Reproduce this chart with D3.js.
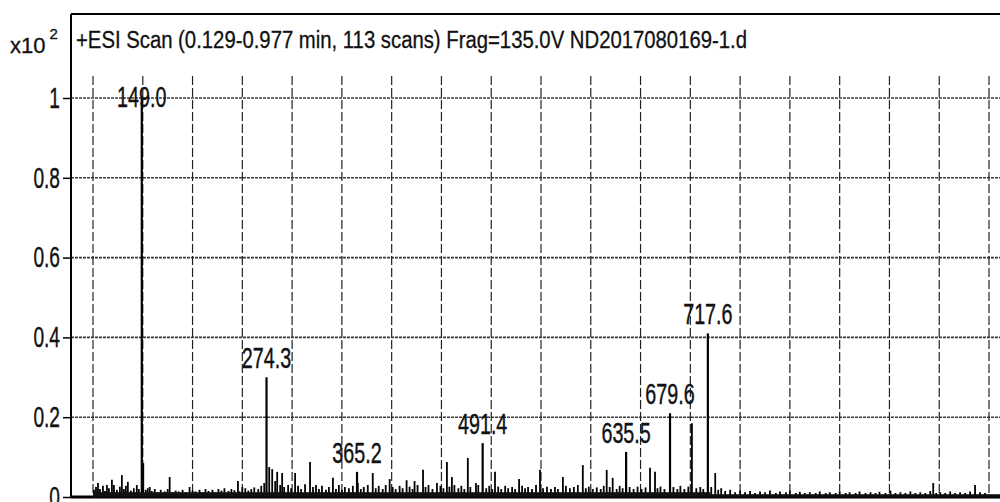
<!DOCTYPE html>
<html>
<head>
<meta charset="utf-8">
<script src="https://cdn.jsdelivr.net/npm/d3@7"></script>
<style>
  body { margin: 0; background: #fff; }
  svg { display: block; font-family: "Liberation Sans", Arial, sans-serif; }
</style>
</head>
<body>
<div id="spectrum"></div>
<script>
// Chart texts
const titleText = "+ESI Scan (0.129-0.977 min, 113 scans) Frag=135.0V ND2017080169-1.d";
const yTicks = [0, 0.2, 0.4, 0.6, 0.8, 1];
const yTickLabels = ["0", "0.2", "0.4", "0.6", "0.8", "1"];
const xGridValues = [100, 150, 200, 250, 300, 350, 400, 450, 500, 550, 600, 650, 700, 750, 800, 850, 900, 950, 1000];

// Labelled peaks (m/z, intensity x10^2)
const labelMz = [149.0, 274.3, 365.2, 491.4, 635.5, 679.6, 717.6];
const labelIntensity = [1.0, 0.30, 0.063, 0.135, 0.113, 0.21, 0.41];

// Other visible peaks [m/z, intensity]
const minorPeaks = [
  [105, 0.035], [114, 0.03], [119, 0.043], [129, 0.055], [135, 0.038], [144, 0.03],
  [150.5, 0.085], [157, 0.025], [177, 0.05], [197, 0.025], [245.6, 0.04], [250, 0.025],
  [277, 0.075], [280, 0.07], [285, 0.063], [290, 0.06], [303, 0.06], [318, 0.088],
  [341, 0.048], [366, 0.035], [381, 0.06], [398, 0.045], [415, 0.042], [423, 0.04],
  [431.5, 0.068], [445.5, 0.035], [455.5, 0.088], [460.5, 0.05], [476.5, 0.098],
  [484.7, 0.035], [503.8, 0.063], [528, 0.045], [549, 0.068], [572, 0.05], [592, 0.08],
  [616, 0.068], [622, 0.048], [659.5, 0.073], [664.5, 0.063], [701.6, 0.185],
  [725, 0.06], [944, 0.035], [986, 0.03]
];

// Baseline noise [m/z, intensity]
const noisePeaks = [
  [101, .018], [103, .025], [107, .02], [110, .028], [112, .015], [116, .022], [121, .03],
  [124, .018], [127, .026], [131, .02], [133, .028], [138, .016], [141, .022], [146, .02],
  [153, .018], [155, .022], [159, .015], [162, .02], [165, .012], [168, .018], [172, .014],
  [175, .02], [180, .012], [183, .016], [186, .014], [190, .018], [193, .012], [200, .016],
  [203, .014], [207, .018], [210, .012], [213, .02], [216, .015], [220, .018], [223, .012],
  [226, .02], [229, .016], [232, .022], [236, .015], [239, .02], [242, .017], [247, .014],
  [253, .022], [256, .016], [259, .02], [262, .024], [266, .02], [269, .028], [272, .035],
  [283, .04], [288, .03], [292, .025], [296, .03], [299, .022], [306, .028], [309, .02],
  [313, .032], [321, .025], [324, .03], [327, .02], [330, .028], [334, .018], [337, .025],
  [344, .02], [347, .03], [350, .018], [353, .025], [357, .022], [361, .028], [369, .02],
  [372, .025], [376, .03], [384, .022], [387, .028], [391, .02], [394, .03], [401, .025],
  [404, .02], [408, .028], [411, .022], [418, .026], [421, .02], [426, .03], [434, .025],
  [437, .03], [441, .02], [449, .028], [452, .022], [458, .026], [463, .03], [467, .022],
  [470, .028], [473, .02], [479, .025], [487, .03], [495, .022], [498, .028], [501, .02],
  [507, .026], [510, .02], [514, .028], [517, .022], [521, .025], [524, .02], [531, .028],
  [534, .022], [537, .025], [541, .02], [545, .03], [552, .022], [556, .026], [560, .02],
  [564, .025], [567, .02], [575, .028], [579, .022], [583, .025], [587, .03], [595, .022],
  [598, .026], [602, .02], [606, .024], [610, .02], [613, .028], [619, .025], [626, .02],
  [629, .028], [632, .022], [639, .025], [643, .02], [647, .026], [651, .02], [655, .024],
  [667, .022], [670, .026], [674, .02], [683, .025], [687, .02], [690, .028], [694, .02],
  [698, .026], [706, .022], [710, .025], [713, .02], [721, .025], [728, .018], [731, .022],
  [735, .015], [740, .018], [745, .012], [750, .016], [755, .012], [760, .015], [765, .01],
  [770, .014], [775, .012], [780, .016], [786, .01], [790, .014], [796, .012], [800, .016],
  [806, .01], [810, .013], [815, .01], [820, .012], [826, .01], [830, .014], [836, .01],
  [840, .012], [846, .01], [850, .013], [856, .01], [860, .012], [866, .01], [870, .014],
  [876, .01], [881, .012], [886, .01], [890, .013], [896, .01], [901, .016], [906, .01],
  [911, .012], [916, .01], [921, .014], [926, .01], [931, .012], [936, .01], [941, .015],
  [947, .01], [951, .012], [956, .01], [961, .014], [966, .01], [971, .012], [976, .01],
  [981, .014], [986, .01], [991, .012], [996, .01]
];

// Layout
const width = 1000;
const height = 502;
const axisX = 71;
const frameTop = 14;
const gridTop = 76;

const x = d3.scaleLinear().domain([100, 1000]).range([93, 989]);
const y = d3.scaleLinear().domain([0, 1]).range([497, 98]);

// squeeze text horizontally, like the scanned print
function condense(sel, k) {
  sel.each(function () {
    const w = this.getComputedTextLength();
    d3.select(this).attr("textLength", w * k).attr("lengthAdjust", "spacingAndGlyphs");
  });
}

const svg = d3.select("#spectrum")
  .append("svg")
  .attr("width", width)
  .attr("height", height);

// Horizontal grid lines
svg.append("g")
  .selectAll("line")
  .data(yTicks.filter((d) => d > 0))
  .enter()
  .append("line")
  .attr("x1", axisX)
  .attr("x2", width)
  .attr("y1", (d) => y(d))
  .attr("y2", (d) => y(d))
  .attr("stroke", "#3a3a3a")
  .attr("stroke-width", 1.6)
  .attr("stroke-dasharray", "3,1");

// Vertical grid lines
svg.append("g")
  .selectAll("line")
  .data(xGridValues)
  .enter()
  .append("line")
  .attr("x1", (d) => x(d))
  .attr("x2", (d) => x(d))
  .attr("y1", gridTop)
  .attr("y2", y(0))
  .attr("stroke", "#222")
  .attr("stroke-width", 1.2)
  .attr("stroke-dasharray", "9,3");

// Noise sticks
svg.append("g")
  .selectAll("line")
  .data(noisePeaks)
  .enter()
  .append("line")
  .attr("x1", (d) => x(d[0]))
  .attr("x2", (d) => x(d[0]))
  .attr("y1", y(0))
  .attr("y2", (d) => y(d[1]))
  .attr("stroke", "#000")
  .attr("stroke-width", 1.8);

// Minor peaks
svg.append("g")
  .selectAll("line")
  .data(minorPeaks)
  .enter()
  .append("line")
  .attr("x1", (d) => x(d[0]))
  .attr("x2", (d) => x(d[0]))
  .attr("y1", y(0))
  .attr("y2", (d) => y(d[1]))
  .attr("stroke", "#000")
  .attr("stroke-width", 1.8);

// Labelled peaks
const labelled = labelMz.map((mz, i) => ({ mz: mz, v: labelIntensity[i] }));

svg.append("g")
  .selectAll("line")
  .data(labelled)
  .enter()
  .append("line")
  .attr("x1", (d) => x(d.mz))
  .attr("x2", (d) => x(d.mz))
  .attr("y1", y(0))
  .attr("y2", (d) => y(d.v))
  .attr("stroke", "#000")
  .attr("stroke-width", 2.2);

// Baseline band
svg.append("line")
  .attr("x1", axisX)
  .attr("x2", width)
  .attr("y1", y(0))
  .attr("y2", y(0))
  .attr("stroke", "#000")
  .attr("stroke-width", 3);

svg.append("rect")
  .attr("x", x(100))
  .attr("y", y(0.012))
  .attr("width", x(720) - x(100))
  .attr("height", y(0) - y(0.012))
  .attr("fill", "#111");

svg.append("rect")
  .attr("x", x(720))
  .attr("y", y(0.007))
  .attr("width", width - x(720))
  .attr("height", y(0) - y(0.007))
  .attr("fill", "#111");

// Peak labels
svg.append("g")
  .selectAll("text")
  .data(labelled)
  .enter()
  .append("text")
  .attr("x", (d) => x(d.mz))
  .attr("y", (d) => Math.max(y(d.v) - 9, 107))
  .attr("text-anchor", "middle")
  .attr("font-size", 29)
  .attr("fill", "#111")
  .attr("stroke", "#111")
  .attr("stroke-width", 0.4)
  .text((d) => d.mz.toFixed(1))
  .call(condense, 0.68);

// Frame: left axis and top border
svg.append("line")
  .attr("x1", axisX).attr("x2", axisX)
  .attr("y1", frameTop).attr("y2", y(0) + 1)
  .attr("stroke", "#000").attr("stroke-width", 2);

svg.append("line")
  .attr("x1", axisX).attr("x2", width)
  .attr("y1", frameTop).attr("y2", frameTop)
  .attr("stroke", "#000").attr("stroke-width", 2.2);

// Y axis ticks
const yAxis = d3.axisLeft(y)
  .tickValues(yTicks)
  .tickSize(8)
  .tickPadding(3)
  .tickFormat((d, i) => yTickLabels[i]);

const yAxisG = svg.append("g")
  .attr("transform", `translate(${axisX}, 0)`)
  .call(yAxis);

yAxisG.select(".domain").remove();
yAxisG.selectAll(".tick line").attr("stroke", "#000").attr("stroke-width", 1.5);
yAxisG.selectAll(".tick text")
  .attr("font-family", "Liberation Sans, Arial, sans-serif")
  .attr("font-size", 29)
  .attr("fill", "#111")
  .attr("stroke", "#111")
  .attr("stroke-width", 0.4)
  .call(condense, 0.66);

// Exponent label
const expo = svg.append("text")
  .attr("x", 10)
  .attr("y", 53)
  .attr("font-size", 22)
  .attr("fill", "#111")
  .attr("stroke", "#111")
  .attr("stroke-width", 0.3);
expo.append("tspan").text("x10");
expo.append("tspan").attr("dx", 4).attr("dy", -14).attr("font-size", 15).text("2");

// Title
svg.append("text")
  .attr("x", 76)
  .attr("y", 48)
  .attr("font-size", 23)
  .attr("fill", "#111")
  .attr("stroke", "#111")
  .attr("stroke-width", 0.3)
  .attr("textLength", 671)
  .attr("lengthAdjust", "spacingAndGlyphs")
  .text(titleText);
</script>
</body>
</html>
